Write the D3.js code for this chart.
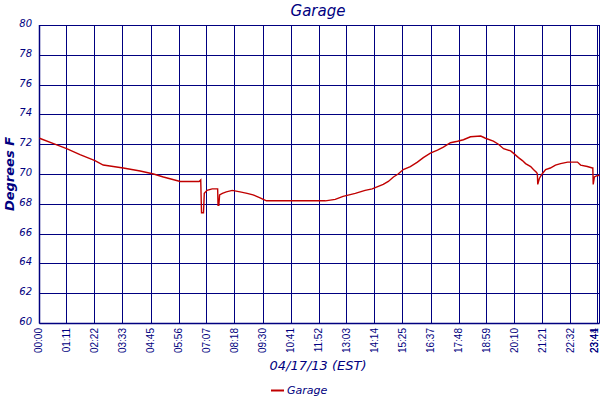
<!DOCTYPE html>
<html>
<head>
<meta charset="utf-8">
<script src="https://cdn.jsdelivr.net/npm/d3@7"></script>
<style>
  html, body { margin: 0; padding: 0; background: #fff; }
  svg { display: block; }
</style>
</head>
<body>
<svg id="chart" width="600" height="400"></svg>
<script>
// ---- data ----
const seriesName = "Garage";
const times = ["00:00","00:39","01:09","01:43","02:21","02:42","03:33","04:16","04:50","05:15","05:58","06:46","06:50","06:52","06:57","06:59","07:06","07:19","07:33","07:34","07:36","07:38","07:45","07:55","08:10","08:30","08:48","09:03","09:21","09:29","09:37","11:03","12:07","12:32","12:52","13:23","13:48","14:06","14:34","14:47","15:00","15:12","15:25","15:43","16:01","16:16","16:34","16:52","17:07","17:25","17:43","17:58","18:16","18:42","18:54","19:14","19:27","19:40","19:58","20:05","20:18","20:28","20:36","20:49","20:56","21:04","21:06","21:07","21:11","21:18","21:27","21:39","21:52","22:05","22:23","22:48","22:56","23:13","23:26","23:27","23:28","23:31","23:39","23:44"];
const temps = [72.4,72.0,71.7,71.3,70.9,70.6,70.4,70.2,70.0,69.8,69.5,69.5,69.6,67.4,67.4,68.7,68.9,69.0,69.0,67.9,67.9,68.6,68.7,68.8,68.9,68.8,68.7,68.6,68.4,68.3,68.2,68.2,68.2,68.3,68.5,68.7,68.9,69.0,69.3,69.5,69.8,70.0,70.3,70.5,70.8,71.1,71.4,71.6,71.8,72.1,72.2,72.3,72.5,72.55,72.4,72.2,72.0,71.7,71.55,71.4,71.1,70.9,70.7,70.5,70.3,70.1,70.0,69.3,69.7,70.0,70.3,70.4,70.6,70.7,70.8,70.8,70.6,70.5,70.4,70.4,69.3,69.8,69.9,69.9];
const xTickLabels = ["00:00","01:11","02:22","03:33","04:45","05:56","07:07","08:18","09:30","10:41","11:52","13:03","14:14","15:25","16:37","17:48","18:59","20:10","21:21","22:32","23:41","23:44"];
const yTicks = [60,62,64,66,68,70,72,74,76,78,80];
const titleText = "Garage";
const xTitle = "04/17/13 (EST)";
const yTitle = "Degrees F";

// ---- helpers ----
const toMin = s => { const [h, m] = s.split(":").map(Number); return h * 60 + m; };
const data = times.map((t, i) => ({ t: toMin(t), v: temps[i] }));

const navy = "#000080";
const red = "#c00000";
const font = "'DejaVu Sans', Verdana, sans-serif";

const svg = d3.select("#chart");
const pLeft = 39.5, pRight = 599.5, pTop = 25, pBottom = 323;

const x = d3.scaleLinear().domain([0, toMin("23:44")]).range([pLeft, pRight]);
const y = d3.scaleLinear().domain([60, 80]).range([pBottom, pTop]);

// horizontal grid
svg.append("g").selectAll("line").data(yTicks).join("line")
  .attr("x1", pLeft).attr("x2", pRight)
  .attr("y1", d => Math.round(y(d)) + 0.5).attr("y2", d => Math.round(y(d)) + 0.5)
  .attr("stroke", navy).attr("stroke-width", 1);

// vertical grid
svg.append("g").selectAll("line").data(xTickLabels).join("line")
  .attr("x1", d => Math.round(x(toMin(d))) - 0.5).attr("x2", d => Math.round(x(toMin(d))) - 0.5)
  .attr("y1", pTop).attr("y2", pBottom)
  .attr("stroke", navy).attr("stroke-width", 1);

// left axis and bottom axis lines
svg.append("line").attr("x1", pLeft).attr("x2", pLeft).attr("y1", pTop).attr("y2", pBottom + 0.5)
  .attr("stroke", navy).attr("stroke-width", 1.5);
svg.append("line").attr("x1", pLeft).attr("x2", pRight).attr("y1", pBottom + 0.5).attr("y2", pBottom + 0.5)
  .attr("stroke", navy).attr("stroke-width", 1.5);

// y tick labels
svg.append("g").selectAll("text").data(yTicks).join("text")
  .attr("x", 32).attr("y", d => y(d) - 1)
  .attr("text-anchor", "end").attr("dominant-baseline", "middle")
  .attr("font-family", font).attr("font-style", "italic").attr("font-size", 10)
  .attr("fill", navy).text(d => d);

// x tick labels (rotated)
svg.append("g").selectAll("text").data(xTickLabels).join("text")
  .attr("transform", d => `translate(${Math.min(x(toMin(d)) + 2.5, 598)},${pBottom + 5}) rotate(-90)`)
  .attr("text-anchor", "end")
  .attr("font-family", "'Liberation Sans', Arial, sans-serif").attr("font-size", 10)
  .attr("fill", navy).text(d => d);

// line
const line = d3.line().x(d => x(d.t)).y(d => y(d.v));
svg.append("path").datum(data)
  .attr("d", line).attr("fill", "none")
  .attr("stroke", red).attr("stroke-width", 1.4);

// titles
svg.append("text").attr("x", 318).attr("y", 16).attr("text-anchor", "middle")
  .attr("font-family", font).attr("font-style", "italic").attr("font-size", 15)
  .attr("fill", navy).text(titleText);

svg.append("text").attr("transform", `translate(14,${(pTop + pBottom) / 2}) rotate(-90)`)
  .attr("text-anchor", "middle")
  .attr("font-family", font).attr("font-style", "italic").attr("font-weight", "bold").attr("font-size", 13)
  .attr("fill", navy).text(yTitle);

svg.append("text").attr("x", 318).attr("y", 370).attr("text-anchor", "middle")
  .attr("font-family", font).attr("font-style", "italic").attr("font-size", 13)
  .attr("fill", navy).text(xTitle);

// legend
const lg = svg.append("g");
lg.append("line").attr("x1", 271).attr("x2", 284).attr("y1", 390.5).attr("y2", 390.5)
  .attr("stroke", red).attr("stroke-width", 2);
lg.append("text").attr("x", 287).attr("y", 394)
  .attr("font-family", font).attr("font-style", "italic").attr("font-size", 11)
  .attr("fill", navy).text(seriesName);
</script>
</body>
</html>
